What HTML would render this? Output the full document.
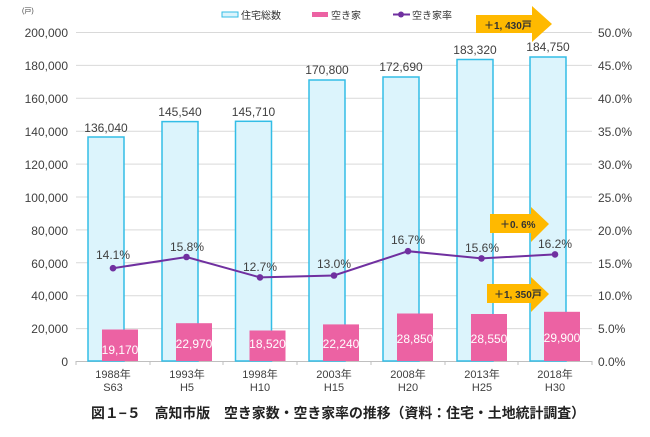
<!DOCTYPE html>
<html><head><meta charset="utf-8"><style>
body{margin:0;background:#fff;}
svg text{font-family:"Liberation Sans","Noto Sans CJK JP",sans-serif;}
</style></head><body>
<svg width="650" height="432" viewBox="0 0 650 432" xmlns="http://www.w3.org/2000/svg">
<g stroke="#d9d9d9" stroke-width="1">
<line x1="76" y1="32.5" x2="592" y2="32.5"/><line x1="76" y1="65.4" x2="592" y2="65.4"/><line x1="76" y1="98.3" x2="592" y2="98.3"/><line x1="76" y1="131.2" x2="592" y2="131.2"/><line x1="76" y1="164.1" x2="592" y2="164.1"/><line x1="76" y1="197" x2="592" y2="197"/><line x1="76" y1="229.9" x2="592" y2="229.9"/><line x1="76" y1="262.8" x2="592" y2="262.8"/><line x1="76" y1="295.7" x2="592" y2="295.7"/><line x1="76" y1="328.6" x2="592" y2="328.6"/>
</g>
<g stroke="#bfbfbf"><line x1="76" y1="361.5" x2="592" y2="361.5"/>
<line x1="76" y1="361" x2="76" y2="365"/><line x1="150" y1="361" x2="150" y2="365"/><line x1="223" y1="361" x2="223" y2="365"/><line x1="297" y1="361" x2="297" y2="365"/><line x1="371" y1="361" x2="371" y2="365"/><line x1="445" y1="361" x2="445" y2="365"/><line x1="518" y1="361" x2="518" y2="365"/><line x1="592" y1="361" x2="592" y2="365"/></g>
<g fill="#dcf4fc" stroke="#33bde6" stroke-width="1.5">
<rect x="88" y="137" width="36" height="224"/>
<rect x="162" y="121.6" width="36" height="239.4"/>
<rect x="235.5" y="121.3" width="36" height="239.7"/>
<rect x="309" y="80" width="36" height="281"/>
<rect x="383" y="77" width="36" height="284"/>
<rect x="457" y="59.5" width="36" height="301.5"/>
<rect x="530" y="57" width="36" height="304"/>
</g>
<g fill="#ec62a3">
<rect x="102" y="329.5" width="36" height="31.5"/>
<rect x="176" y="323.2" width="36" height="37.8"/>
<rect x="249.5" y="330.5" width="36" height="30.5"/>
<rect x="323" y="324.4" width="36" height="36.6"/>
<rect x="397" y="313.5" width="36" height="47.5"/>
<rect x="471" y="314" width="36" height="47"/>
<rect x="544" y="311.8" width="36" height="49.2"/>
</g>
<g fill="#fff" font-size="12" text-anchor="middle">
<text x="120" y="354">19,170</text><text x="194" y="348">22,970</text><text x="267.5" y="348">18,520</text><text x="341" y="348">22,240</text><text x="415" y="343">28,850</text><text x="489" y="343">28,550</text><text x="562" y="342">29,900</text>
</g>
<g fill="#404040" font-size="12" text-anchor="middle">
<text x="106" y="132">136,040</text><text x="180" y="116">145,540</text><text x="253.5" y="116">145,710</text><text x="327" y="74">170,800</text><text x="401" y="71">172,690</text><text x="475" y="54">183,320</text><text x="548" y="51">184,750</text>
<text x="113" y="259">14.1%</text><text x="187" y="251">15.8%</text><text x="260" y="271">12.7%</text><text x="334" y="268">13.0%</text><text x="408" y="244">16.7%</text><text x="482" y="252">15.6%</text><text x="555" y="248">16.2%</text>
</g>
<polyline fill="none" stroke="#7030a0" stroke-width="2" points="113,268.2 186.5,257 260,277.4 334,275.5 408,251.2 481.5,258.4 555,254.4"/>
<g fill="#7030a0"><circle cx="113" cy="268.2" r="3.3"/><circle cx="186.5" cy="257" r="3.3"/><circle cx="260" cy="277.4" r="3.3"/><circle cx="334" cy="275.5" r="3.3"/><circle cx="408" cy="251.2" r="3.3"/><circle cx="481.5" cy="258.4" r="3.3"/><circle cx="555" cy="254.4" r="3.3"/></g>
<g font-size="12" fill="#404040" text-anchor="end">
<text x="68" y="37">200,000</text><text x="68" y="70">180,000</text><text x="68" y="103">160,000</text><text x="68" y="136">140,000</text><text x="68" y="169">120,000</text><text x="68" y="202">100,000</text><text x="68" y="235">80,000</text><text x="68" y="268">60,000</text><text x="68" y="300">40,000</text><text x="68" y="333">20,000</text><text x="68" y="366">0</text>
</g>
<g font-size="12" fill="#404040">
<text x="598" y="37">50.0%</text><text x="598" y="70">45.0%</text><text x="598" y="103">40.0%</text><text x="598" y="136">35.0%</text><text x="598" y="169">30.0%</text><text x="598" y="202">25.0%</text><text x="598" y="235">20.0%</text><text x="598" y="268">15.0%</text><text x="598" y="300">10.0%</text><text x="598" y="333">5.0%</text><text x="598" y="366">0.0%</text>
</g>
<g font-size="11" fill="#404040" text-anchor="middle">
<text x="113" y="378">1988年</text><text x="113" y="391">S63</text>
<text x="187" y="378">1993年</text><text x="187" y="391">H5</text>
<text x="260" y="378">1998年</text><text x="260" y="391">H10</text>
<text x="334" y="378">2003年</text><text x="334" y="391">H15</text>
<text x="408" y="378">2008年</text><text x="408" y="391">H20</text>
<text x="482" y="378">2013年</text><text x="482" y="391">H25</text>
<text x="555" y="378">2018年</text><text x="555" y="391">H30</text>
</g>
<text x="22" y="13" font-size="7" fill="#404040">(戸)</text>
<rect x="222" y="12" width="16" height="5" fill="#dcf4fc" stroke="#33bde6"/>
<text x="241" y="19" font-size="10" fill="#333">住宅総数</text>
<rect x="312" y="12" width="16" height="5" fill="#ec62a3"/>
<text x="331" y="19" font-size="10" fill="#333">空き家</text>
<line x1="393" y1="14.5" x2="410" y2="14.5" stroke="#7030a0" stroke-width="2"/><circle cx="401" cy="14.5" r="3" fill="#7030a0"/>
<text x="412" y="19" font-size="10" fill="#333">空き家率</text>
<g fill="#ffb900">
<polygon points="476,15 532,15 532,6 552,24 532,42 532,33 476,33"/>
<polygon points="490,214 531,214 531,207 549,224 531,242 531,233 490,233"/>
<polygon points="487,284 531,284 531,277 549,294 531,312 531,303 487,303"/>
</g>
<g font-size="10" fill="#333" font-weight="bold">
<text x="484" y="29">＋1, 430戸</text>
<text x="500" y="228">＋0. 6%</text>
<text x="494" y="298">＋1, 350戸</text>
</g>
<text x="338" y="418" font-size="14" font-weight="bold" fill="#222" text-anchor="middle" textLength="494" lengthAdjust="spacingAndGlyphs">図１−５　高知市版　空き家数・空き家率の推移（資料：住宅・土地統計調査）</text>
</svg>
</body></html>
